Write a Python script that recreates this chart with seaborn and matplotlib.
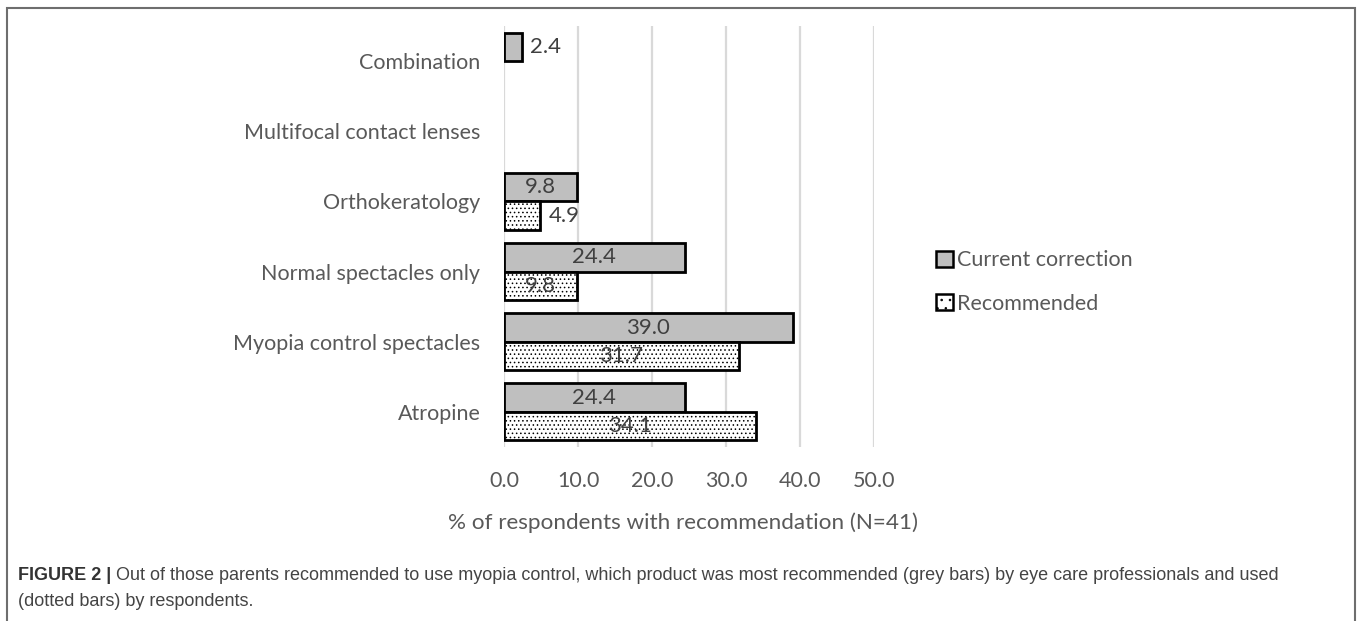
import matplotlib
matplotlib.use("Agg")
import matplotlib.pyplot as plt
from matplotlib.patches import Patch, Rectangle
import numpy as np
import pandas as pd
import seaborn as sns

# Survey data: share of respondents (N=41) per myopia-control option
categories = ["Combination", "Multifocal contact lenses", "Orthokeratology",
              "Normal spectacles only", "Myopia control spectacles", "Atropine"]
current_correction = [2.4, np.nan, 9.8, 24.4, 39.0, 24.4]
recommended = [np.nan, np.nan, 4.9, 9.8, 31.7, 34.1]
series_names = ["Current correction", "Recommended"]
x_ticks = [0, 10, 20, 30, 40, 50]

df = pd.DataFrame({
    "option": categories * 2,
    "series": [series_names[0]] * len(categories) + [series_names[1]] * len(categories),
    "value": current_correction + recommended,
}).dropna()

sns.set_theme(style="white")
plt.rcParams["font.family"] = ["Lato", "DejaVu Sans"]
plt.rcParams["hatch.linewidth"] = 0.6
plt.rcParams["hatch.color"] = "#555555"

text_col = "#595959"
fs = 15.5
W, H = 1358, 621
fig = plt.figure(figsize=(W / 100, H / 100), dpi=100)
fig.patch.set_facecolor("white")
ax = fig.add_axes([504 / W, 1 - 447 / H, (874 - 504) / W, (447 - 26) / H])

sns.barplot(data=df, y="option", x="value", hue="series",
            order=categories, hue_order=series_names, orient="h",
            width=0.81, palette=["#BFBFBF", "white"], edgecolor="black",
            linewidth=2, errorbar=None, legend=False, ax=ax, zorder=3)

# Dotted fill for the "Recommended" bars
for bar in ax.containers[1]:
    if bar is not None:
        bar.set_hatch("....")

# Value labels: centred inside wide bars, just past the end of short ones
for cont in ax.containers:
    vals = np.asarray(cont.datavalues, dtype=float)
    inside = [f"{v:.1f}" if v >= 8 else "" for v in vals]
    outside = [f"{v:.1f}" if v < 8 else "" for v in vals]
    ax.bar_label(cont, labels=inside, label_type="center", fontsize=fs + 0.5,
                 color="#404040")
    ax.bar_label(cont, labels=outside, label_type="edge", padding=6,
                 fontsize=fs + 0.5, color="#404040")

ax.set_xlim(0, 50)
ax.set_ylim(len(categories) - 0.5, -0.5)
ax.set_xticks(x_ticks)
ax.set_xticklabels([f"{t:.1f}" for t in x_ticks], fontsize=fs, color=text_col)
ax.tick_params(axis="x", length=0, pad=17)
ax.tick_params(axis="y", length=0, pad=17, labelsize=fs, labelcolor=text_col)
ax.set_ylabel("")
ax.set_xlabel("% of respondents with recommendation (N=41)", fontsize=16.2,
              color=text_col, labelpad=14)
ax.xaxis.set_label_coords(0.485, -0.155)
ax.xaxis.grid(True, color="#D9D9D9", linewidth=1.6, zorder=0)
ax.set_axisbelow(True)
for s in ax.spines.values():
    s.set_visible(False)

handles = [Patch(facecolor="#BFBFBF", edgecolor="black", linewidth=1.8),
           Patch(facecolor="white", edgecolor="black", linewidth=1.8, hatch="..")]
fig.legend(handles, series_names, loc="center left",
           bbox_to_anchor=(917 / W, 1 - 282 / H), frameon=False,
           fontsize=fs, labelcolor=text_col, handlelength=0.75,
           handleheight=0.75, handletextpad=0.2, labelspacing=1.1)

# Figure frame and caption
fig.patches.append(Rectangle((7 / W, -0.1), (1355 - 7) / W, 1.1 - 8 / H,
                             transform=fig.transFigure, fill=False,
                             edgecolor="#6E6E6E", linewidth=1.5))
cap_font = ["Liberation Sans Narrow", "Liberation Sans", "DejaVu Sans"]
t1 = fig.text(18 / W, 1 - 576 / H, "FIGURE 2 |", fontsize=13, fontweight="bold",
              color="#333333", family=cap_font, va="center")
fig.canvas.draw()
bb = t1.get_window_extent()
fig.text((bb.x1 + 5) / W, 1 - 576 / H,
         "Out of those parents recommended to use myopia control, which product "
         "was most recommended (grey bars) by eye care professionals and used",
         fontsize=13, color="#444444", family=cap_font, va="center")
fig.text(18 / W, 1 - 601 / H, "(dotted bars) by respondents.", fontsize=13,
         color="#444444", family=cap_font, va="center")

fig.savefig("out.png", dpi=100, facecolor="white")
